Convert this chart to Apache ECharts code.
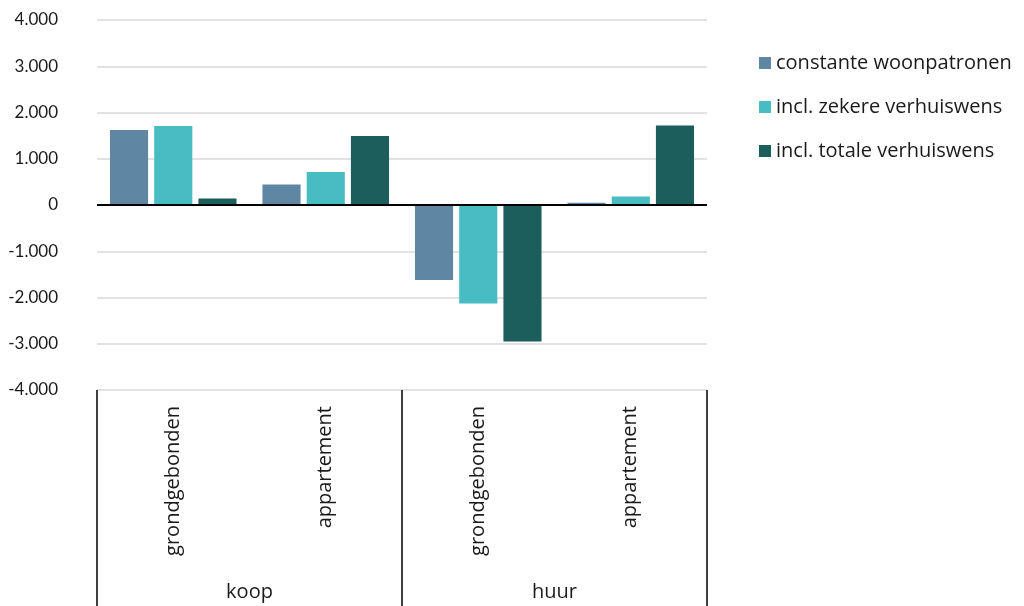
<!DOCTYPE html>
<html>
<head>
<meta charset="utf-8">
<script src="https://cdn.jsdelivr.net/npm/echarts@6/dist/echarts.min.js"></script>
<style>
  html, body { margin: 0; padding: 0; background: #fff; }
  #chart { width: 1024px; height: 606px; }
</style>
</head>
<body>
<div id="chart"></div>
<script>
// Woningtypen per eigendomsvorm
const categories = ['grondgebonden', 'appartement', 'grondgebonden', 'appartement'];
const groups = ['koop', 'huur'];

// Verschil in aantal woningen per scenario
const seriesNames = ['constante woonpatronen', 'incl. zekere verhuiswens', 'incl. totale verhuiswens'];
const constante = [1620, 445, -1620, 50];
const zekere = [1710, 715, -2130, 185];
const totale = [140, 1490, -2950, 1720];

const colors = ['#5f87a3', '#48bcc3', '#1c5e5c'];
const labelFont = '"Open Sans", Lato, sans-serif';
const tickFont = 'Lato, "Open Sans", sans-serif';

const fmt = v => {
  const s = Math.abs(v).toString().replace(/\B(?=(\d{3})+(?!\d))/g, '.');
  return (v < 0 ? '-' : '') + s;
};

const chart = echarts.init(document.getElementById('chart'));
const values = [constante, zekere, totale];

chart.setOption({
  animation: false,
  color: colors,
  textStyle: { fontFamily: labelFont },
  grid: { left: 97, right: 317, top: 20, bottom: 216, containLabel: false },
  legend: {
    orient: 'vertical',
    left: 754,
    top: 48,
    itemWidth: 12,
    itemHeight: 12,
    itemGap: 24,
    icon: 'rect',
    textStyle: { fontSize: 20, color: '#1a1a1a', fontFamily: labelFont },
    data: seriesNames
  },
  xAxis: [
    {
      type: 'category',
      data: categories,
      axisLine: { show: false, onZero: false },
      axisTick: { show: false },
      axisLabel: { rotate: 90, fontSize: 20, color: '#1a1a1a', margin: 16, interval: 0, fontFamily: labelFont }
    },
    {
      type: 'category',
      data: groups,
      position: 'bottom',
      axisLine: { show: false, onZero: false },
      axisTick: { show: true, length: 216, interval: 0, lineStyle: { color: '#000', width: 1.5 } },
      axisLabel: { fontSize: 20, color: '#1a1a1a', margin: 192, interval: 0, fontFamily: labelFont }
    }
  ],
  yAxis: {
    type: 'value',
    min: -4000,
    max: 4000,
    interval: 1000,
    axisLine: { show: false },
    axisTick: { show: false },
    axisLabel: { fontSize: 17, color: '#1a1a1a', margin: 39, formatter: fmt, fontFamily: tickFont },
    splitLine: { lineStyle: { color: '#d9d9d9', width: 1.5 } }
  },
  series: seriesNames.map((name, i) => ({
    name,
    type: 'bar',
    xAxisIndex: 0,
    data: values[i],
    barGap: '16%',
    barCategoryGap: '17%',
    itemStyle: { color: colors[i] },
    markLine: i === 0 ? {
      silent: true,
      symbol: 'none',
      label: { show: false },
      lineStyle: { color: '#000', width: 2, type: 'solid' },
      data: [{ yAxis: 0 }]
    } : undefined
  }))
});
</script>
</body>
</html>
